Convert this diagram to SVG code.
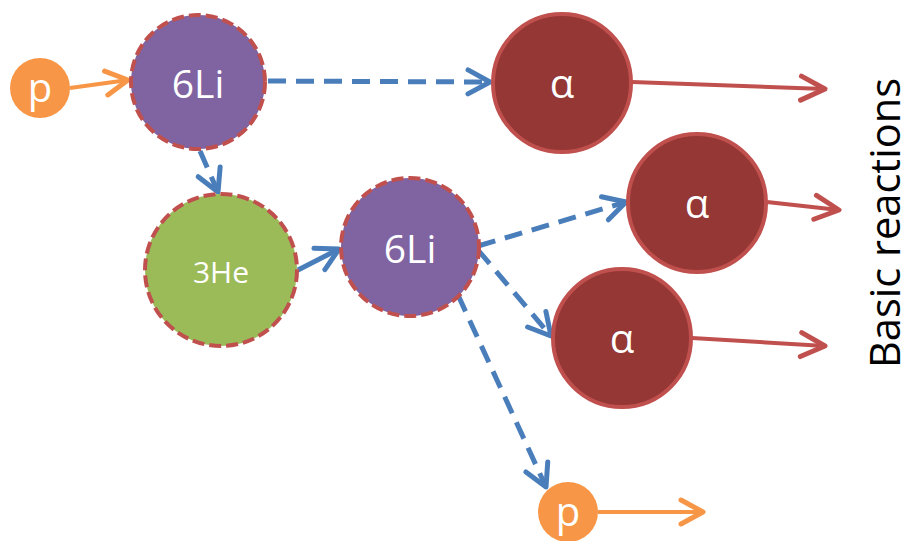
<svg xmlns="http://www.w3.org/2000/svg" width="912" height="541" viewBox="0 0 912 541">
<style>
.lbl{font-family:"Open Sans","Noto Sans","Liberation Sans",sans-serif;fill:#fff;text-anchor:middle;dominant-baseline:central}
.li{fill:#8064A2;stroke:#C0504D;stroke-width:4;stroke-dasharray:12 5}
.he{fill:#9BBB59;stroke:#C0504D;stroke-width:4;stroke-dasharray:12 5}
.al{fill:#953735;stroke:#C0504D;stroke-width:4}
.pr{fill:#F79646}
.blue{stroke:#4A7EBB;stroke-width:5;fill:none;stroke-dasharray:18 10;marker-end:url(#mb)}
.red{stroke:#C0504D;stroke-width:4;fill:none;marker-end:url(#mr)}
.org{stroke:#F79646;stroke-width:4;fill:none;marker-end:url(#mo)}
</style>
<defs>
<marker id="mb" markerUnits="userSpaceOnUse" markerWidth="40" markerHeight="40" refX="0" refY="0" orient="auto" overflow="visible"><path d="M-22,-12 L0,0 L-22,12" fill="none" stroke="#4A7EBB" stroke-width="5" stroke-linecap="round" stroke-linejoin="round"/></marker>
<marker id="mr" markerUnits="userSpaceOnUse" markerWidth="40" markerHeight="40" refX="0" refY="0" orient="auto" overflow="visible"><path d="M-24,-12 L0,0 L-24,12" fill="none" stroke="#C0504D" stroke-width="5" stroke-linecap="round" stroke-linejoin="round"/></marker>
<marker id="mo" markerUnits="userSpaceOnUse" markerWidth="40" markerHeight="40" refX="0" refY="0" orient="auto" overflow="visible"><path d="M-22,-12 L0,0 L-22,12" fill="none" stroke="#F79646" stroke-width="5" stroke-linecap="round" stroke-linejoin="round"/></marker>
</defs>
<g id="connectors">
<line class="org" x1="70" y1="88" x2="128" y2="80"/>
<line class="blue" x1="268" y1="81" x2="490" y2="82"/>
<line class="blue" x1="200" y1="151" x2="218" y2="192"/>
<line class="blue" x1="298" y1="270" x2="339" y2="249" style="stroke-dasharray:none"/>
<line class="blue" x1="478" y1="246" x2="626" y2="202"/>
<line class="blue" x1="478" y1="250" x2="551" y2="336"/>
<line class="blue" x1="458" y1="295" x2="546" y2="487"/>
<line class="red" x1="632" y1="82" x2="825" y2="89"/>
<line class="red" x1="767" y1="202" x2="839" y2="210"/>
<line class="red" x1="692" y1="338" x2="825" y2="346"/>
<line class="org" x1="598" y1="512" x2="703" y2="512"/>
</g>
<g id="p1"><circle class="pr" cx="40" cy="88" r="30"/><text class="lbl" x="40" y="86" font-size="40">p</text></g>
<g id="li1"><circle class="li" cx="198" cy="82" r="67"/><text class="lbl" x="198" y="82" font-size="39">6Li</text></g>
<g id="he3"><circle class="he" cx="221" cy="270" r="76"/><text class="lbl" x="221" y="271" font-size="30">3He</text></g>
<g id="li2"><circle class="li" cx="410" cy="247" r="69"/><text class="lbl" x="410" y="247" font-size="39">6Li</text></g>
<g id="a1"><circle class="al" cx="562" cy="83" r="69"/><text class="lbl" x="562" y="82" font-size="40">α</text></g>
<g id="a2"><circle class="al" cx="697" cy="203" r="69"/><text class="lbl" x="697" y="202" font-size="40">α</text></g>
<g id="a3"><circle class="al" cx="622" cy="338" r="69"/><text class="lbl" x="622" y="337" font-size="40">α</text></g>
<g id="p2"><circle class="pr" cx="568" cy="512" r="30"/><text class="lbl" x="568" y="510" font-size="40">p</text></g>
<g id="title"><text transform="translate(900 223) rotate(-90)" x="0" y="0" font-family="Open Sans, Noto Sans, Liberation Sans, sans-serif" font-size="42" fill="#000" text-anchor="middle" textLength="290" lengthAdjust="spacingAndGlyphs">Basic reactions</text></g>
</svg>
